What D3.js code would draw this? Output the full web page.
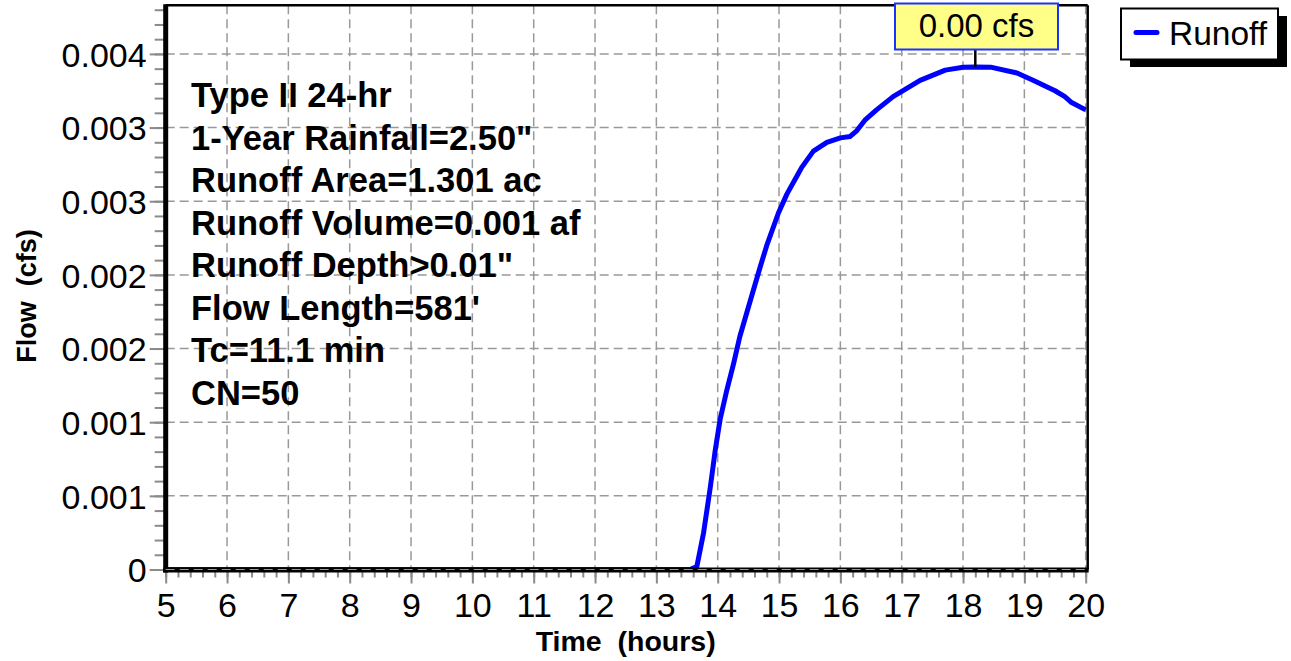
<!DOCTYPE html>
<html>
<head>
<meta charset="utf-8">
<script src="https://cdn.jsdelivr.net/npm/d3@7"></script>
<style>
  body { margin: 0; background: #fff; }
  svg { display: block; font-family: "Liberation Sans", Arial, sans-serif; }
</style>
</head>
<body>
<div id="chart"></div>
<script>
// Data
const hours = [5, 13.55, 13.66, 13.77, 13.88, 13.96, 14.04, 14.15, 14.26, 14.36, 14.5, 14.69, 14.8, 14.99,
    15.13, 15.29, 15.37, 15.56, 15.78, 16.0, 16.16, 16.27, 16.4, 16.59, 16.86, 17.3, 17.71, 18.0, 18.2,
    18.45, 18.88, 19.15, 19.5, 19.66, 19.77, 20.0];
const flow = [0, 0, 0.00002, 0.00025, 0.00056, 0.00081, 0.00102, 0.00122, 0.00140, 0.00158, 0.00178,
    0.00205, 0.00220, 0.00242, 0.00255, 0.00267, 0.00273, 0.00284, 0.00290, 0.00293, 0.00294, 0.00298,
    0.00305, 0.00312, 0.00321, 0.00332, 0.00339, 0.00341, 0.003412, 0.00341, 0.00337, 0.00332, 0.00325,
    0.00321, 0.00317, 0.00312];

const xTicks = d3.range(5, 21, 1);
const yTicks = [0, 0.0005, 0.001, 0.0015, 0.002, 0.0025, 0.003, 0.0035];
const yTickLabels = ["0", "0.001", "0.001", "0.002", "0.002", "0.003", "0.003", "0.004"];

const infoLines = [
    "Type II 24-hr",
    "1-Year Rainfall=2.50\"",
    "Runoff Area=1.301 ac",
    "Runoff Volume=0.001 af",
    "Runoff Depth>0.01\"",
    "Flow Length=581'",
    "Tc=11.1 min",
    "CN=50"
];
const peakLabel = "0.00 cfs";
const seriesName = "Runoff";

const data = hours.map((h, i) => ({ hour: h, flow: flow[i] }));

// Set up SVG container
const W = 1291, H = 661;
const plot = { left: 165.7, right: 1085.7, top: 5.3, bottom: 569.5 };

const svg = d3.select("#chart")
    .append("svg")
    .attr("width", W)
    .attr("height", H);

svg.append("rect").attr("width", W).attr("height", H).attr("fill", "#fff");

const x = d3.scaleLinear()
    .domain([5, 20])
    .range([plot.left, plot.right]);

const y = d3.scaleLinear()
    .domain([0, 0.00383])
    .range([plot.bottom, plot.top]);

const gridColor = "#999";
const tickColor = "#8a8a8a";

// Grid lines
svg.append("g")
    .selectAll("line")
    .data(xTicks.slice(1))
    .enter()
    .append("line")
    .attr("x1", d => x(d)).attr("x2", d => x(d))
    .attr("y1", plot.top).attr("y2", plot.bottom)
    .attr("stroke", gridColor)
    .attr("stroke-width", 1.5)
    .attr("stroke-dasharray", "9,5");

svg.append("g")
    .selectAll("line")
    .data(yTicks.slice(1))
    .enter()
    .append("line")
    .attr("x1", plot.left).attr("x2", plot.right)
    .attr("y1", d => y(d)).attr("y2", d => y(d))
    .attr("stroke", gridColor)
    .attr("stroke-width", 1.5)
    .attr("stroke-dasharray", "9,5");

// Runoff line
const line = d3.line()
    .x(d => x(d.hour))
    .y(d => y(d.flow));

svg.append("path")
    .datum(data)
    .attr("d", line)
    .attr("fill", "none")
    .attr("stroke", "#0000ff")
    .attr("stroke-width", 5)
    .attr("stroke-linejoin", "round");

// Minor ticks
svg.append("g")
    .attr("class", "x-minor")
    .attr("transform", `translate(0, ${plot.bottom})`)
    .call(d3.axisBottom(x).tickValues(d3.range(5, 20.01, 0.2)).tickSize(8).tickFormat(""));

svg.append("g")
    .attr("class", "y-minor")
    .attr("transform", `translate(${plot.left}, 0)`)
    .call(d3.axisLeft(y).tickValues(d3.range(0, 0.00381, 0.0001)).tickSize(11).tickFormat(""));

// Major axes
svg.append("g")
    .attr("class", "x-axis")
    .attr("transform", `translate(0, ${plot.bottom})`)
    .call(d3.axisBottom(x).tickValues(xTicks).tickSize(14).tickPadding(9).tickFormat(d3.format("d")));

svg.append("g")
    .attr("class", "y-axis")
    .attr("transform", `translate(${plot.left}, 0)`)
    .call(d3.axisLeft(y).tickValues(yTicks).tickSize(16).tickPadding(3)
        .tickFormat((d, i) => yTickLabels[i]));

svg.selectAll(".x-axis path, .y-axis path, .x-minor path, .y-minor path").remove();

svg.selectAll(".x-axis line, .y-axis line, .x-minor line, .y-minor line")
    .attr("stroke", tickColor)
    .attr("stroke-width", 2);

svg.selectAll(".x-axis text, .y-axis text")
    .attr("fill", "#000")
    .attr("font-size", "34px");

svg.selectAll(".y-axis text").attr("dy", "0.36em");

// Plot frame
svg.append("line")
    .attr("x1", plot.left).attr("x2", plot.right + 2)
    .attr("y1", plot.top).attr("y2", plot.top)
    .attr("stroke", "#000").attr("stroke-width", 2.5);
svg.append("line")
    .attr("x1", plot.right + 2).attr("x2", plot.right + 2)
    .attr("y1", plot.top).attr("y2", plot.bottom)
    .attr("stroke", "#000").attr("stroke-width", 2.5);
svg.append("line")
    .attr("x1", plot.left).attr("x2", plot.left)
    .attr("y1", plot.top - 1).attr("y2", plot.bottom + 3)
    .attr("stroke", "#000").attr("stroke-width", 5);
svg.append("line")
    .attr("x1", plot.left - 2.5).attr("x2", plot.right + 3)
    .attr("y1", plot.bottom + 0.6).attr("y2", plot.bottom + 0.6)
    .attr("stroke", "#000").attr("stroke-width", 5);

// zero grid line drawn over the axis
svg.append("line")
    .attr("x1", plot.left).attr("x2", plot.right)
    .attr("y1", plot.bottom).attr("y2", plot.bottom)
    .attr("stroke", gridColor)
    .attr("stroke-width", 1.2)
    .attr("stroke-dasharray", "9,5");

// Info text
svg.append("g")
    .selectAll("text")
    .data(infoLines)
    .enter()
    .append("text")
    .attr("x", 191)
    .attr("y", (d, i) => 107 + i * 42.5)
    .attr("font-size", "34.5px")
    .attr("font-weight", "bold")
    .attr("fill", "#000")
    .text(d => d);

// Axis titles
svg.append("text")
    .attr("x", (plot.left + plot.right) / 2)
    .attr("y", 651)
    .attr("text-anchor", "middle")
    .attr("font-size", "28.5px")
    .attr("font-weight", "bold")
    .style("white-space", "pre")
    .text("Time  (hours)");

svg.append("text")
    .attr("transform", `translate(36, 296) rotate(-90)`)
    .attr("text-anchor", "middle")
    .attr("font-size", "27px")
    .attr("font-weight", "bold")
    .style("white-space", "pre")
    .text("Flow  (cfs)");

// Peak label
const peak = data.reduce((a, b) => (b.flow > a.flow ? b : a));
const px = x(peak.hour);

svg.append("line")
    .attr("x1", px).attr("x2", px)
    .attr("y1", 49).attr("y2", y(peak.flow))
    .attr("stroke", "#000")
    .attr("stroke-width", 2.5);

svg.append("rect")
    .attr("x", 895).attr("y", 3.5)
    .attr("width", 163).attr("height", 46)
    .attr("fill", "#ffff88")
    .attr("stroke", "#1a33ff")
    .attr("stroke-width", 2);

svg.append("text")
    .attr("x", 976.5).attr("y", 37)
    .attr("text-anchor", "middle")
    .attr("font-size", "33px")
    .text(peakLabel);

// Legend
svg.append("rect")
    .attr("x", 1130).attr("y", 16)
    .attr("width", 157).attr("height", 51)
    .attr("fill", "#000");
svg.append("rect")
    .attr("x", 1121).attr("y", 8.5)
    .attr("width", 157).attr("height", 51)
    .attr("fill", "#fff")
    .attr("stroke", "#000")
    .attr("stroke-width", 2);
svg.append("line")
    .attr("x1", 1136).attr("x2", 1157)
    .attr("y1", 32.5).attr("y2", 32.5)
    .attr("stroke", "#0000ff")
    .attr("stroke-width", 5)
    .attr("stroke-linecap", "round");
svg.append("text")
    .attr("x", 1169).attr("y", 45)
    .attr("font-size", "33.5px")
    .text(seriesName);
</script>
</body>
</html>
